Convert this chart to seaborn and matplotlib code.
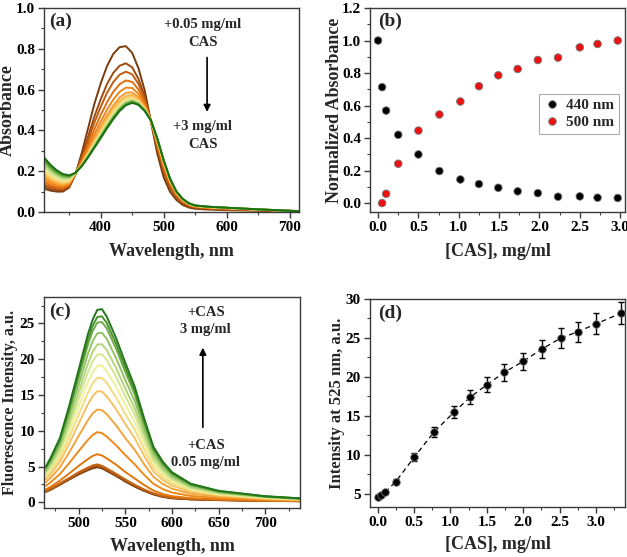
import matplotlib
matplotlib.use("Agg")
import matplotlib.pyplot as plt
import seaborn as sns
import pandas as pd
from matplotlib.ticker import MultipleLocator

# ---------------- data: panel (a) absorbance spectra ----------------
wl_a = [310, 320, 330, 340, 350, 360, 370, 380, 390, 400, 410, 420, 430, 440, 450,
        460, 470, 480, 490, 500, 510, 520, 530, 540, 550, 570, 600, 650, 715]
a00 = [.115,.105,.100,.100,.120,.185,.290,.410,.530,.630,.715,.775,.808,.813,.780,.705,.595,.440,.285,.170,.100,.060,.035,.022,.016,.012,.009,.006,.002]
a01 = [.126,.114,.107,.106,.124,.187,.271,.369,.468,.552,.627,.682,.717,.729,.709,.653,.566,.442,.307,.195,.119,.072,.044,.028,.021,.016,.012,.008,.003]
a02 = [.136,.123,.115,.112,.128,.188,.262,.349,.438,.515,.584,.637,.673,.688,.675,.628,.552,.443,.317,.207,.128,.078,.048,.031,.023,.018,.014,.009,.003]
a03 = [.147,.132,.122,.118,.133,.189,.252,.328,.405,.475,.538,.589,.626,.645,.638,.601,.537,.445,.329,.219,.138,.084,.052,.034,.025,.020,.016,.010,.003]
a04 = [.159,.142,.130,.125,.137,.190,.244,.311,.379,.442,.501,.551,.589,.610,.608,.579,.525,.446,.338,.230,.146,.089,.056,.037,.027,.022,.017,.011,.003]
a05 = [.170,.151,.138,.131,.142,.191,.239,.298,.360,.418,.474,.522,.561,.584,.586,.563,.516,.446,.344,.237,.151,.093,.059,.039,.029,.023,.018,.012,.004]
a06 = [.181,.160,.145,.137,.146,.191,.235,.291,.349,.405,.459,.506,.545,.569,.574,.554,.511,.447,.348,.241,.155,.095,.060,.040,.029,.024,.019,.012,.004]
a07 = [.192,.169,.153,.143,.150,.191,.233,.286,.342,.395,.448,.495,.534,.559,.566,.547,.507,.447,.351,.244,.157,.097,.061,.040,.030,.024,.020,.012,.004]
a08 = [.202,.177,.160,.149,.154,.191,.231,.282,.336,.389,.440,.487,.526,.552,.559,.543,.505,.447,.353,.247,.159,.098,.062,.041,.030,.025,.020,.012,.004]
a09 = [.213,.186,.167,.155,.158,.191,.230,.279,.331,.382,.433,.479,.518,.545,.553,.538,.502,.447,.354,.249,.160,.099,.063,.041,.031,.025,.020,.012,.004]
a10 = [.224,.195,.175,.161,.163,.192,.229,.277,.328,.378,.428,.474,.514,.540,.550,.536,.501,.448,.356,.250,.161,.099,.063,.042,.031,.025,.020,.013,.004]
a11 = [.236,.205,.183,.168,.167,.192,.228,.274,.325,.374,.424,.469,.509,.536,.546,.533,.499,.448,.357,.251,.162,.100,.064,.042,.031,.025,.020,.013,.004]
a12 = [.247,.214,.190,.174,.172,.192,.227,.272,.321,.370,.419,.465,.504,.532,.542,.530,.498,.448,.358,.252,.163,.101,.064,.042,.032,.026,.021,.013,.004]
a13 = [.257,.223,.198,.180,.176,.192,.226,.270,.318,.366,.415,.460,.500,.527,.539,.528,.496,.448,.359,.254,.164,.101,.065,.043,.032,.026,.021,.013,.004]
a14 = [.268,.232,.205,.186,.180,.192,.225,.268,.315,.362,.410,.455,.495,.523,.535,.525,.495,.448,.360,.255,.165,.102,.065,.043,.032,.026,.021,.013,.004]
abs_curves = [a00, a01, a02, a03, a04, a05, a06, a07, a08, a09, a10, a11, a12, a13, a14]
abs_colors = ['#7a3c0c', '#9c4a10', '#c05c10', '#e06e10', '#f08418', '#f59a2c', '#f8b448',
              '#fac864', '#f8de84', '#eaea98', '#cce28a', '#a8d070', '#7cb850', '#4c9630', '#1e7010']

# ---------------- data: panel (b) normalized absorbance ----------------
cas_b = [0, 0.05, 0.1, 0.25, 0.5, 0.76, 1.02, 1.25, 1.49, 1.73, 1.98, 2.23, 2.5, 2.72, 2.97]
norm_440 = [1.0, 0.713, 0.569, 0.42, 0.299, 0.197, 0.145, 0.117, 0.094, 0.072, 0.061, 0.039, 0.041, 0.033, 0.031]
cas_b500 = [0.05, 0.1, 0.25, 0.5, 0.76, 1.02, 1.25, 1.49, 1.73, 1.98, 2.23, 2.5, 2.72, 2.97]
norm_500 = [0.0, 0.057, 0.242, 0.446, 0.545, 0.625, 0.719, 0.786, 0.825, 0.88, 0.895, 0.958, 0.979, 1.0]

# ---------------- data: panel (c) fluorescence spectra ----------------
wl_c = [465, 470, 480, 490, 500, 510, 515, 520, 525, 530, 540, 550, 560, 570, 580, 590, 600, 620, 650, 700, 737]
c00 = [1.5, 1.8, 2.5, 3.2, 3.9, 4.5, 4.75, 4.9, 4.75, 4.4, 3.7, 2.9, 2.2, 1.6, 1.1, 0.75, 0.55, 0.4, 0.3, 0.2, 0.15]
c01 = [1.45, 1.75, 2.45, 3.2, 3.95, 4.55, 4.85, 5.0, 4.8, 4.45, 3.75, 2.95, 2.25, 1.65, 1.15, 0.8, 0.6, 0.42, 0.31, 0.2, 0.15]
c02 = [1.55, 1.85, 2.55, 3.3, 4.05, 4.65, 4.95, 5.1, 4.9, 4.55, 3.85, 3.05, 2.35, 1.72, 1.2, 0.85, 0.63, 0.45, 0.33, 0.21, 0.16]
c03 = [1.6, 1.9, 2.65, 3.4, 4.2, 4.85, 5.15, 5.3, 5.1, 4.75, 4.0, 3.2, 2.45, 1.8, 1.25, 0.88, 0.66, 0.47, 0.34, 0.22, 0.16]
c04 = [1.79, 2.16, 3.03, 4.03, 5.08, 6.04, 6.48, 6.72, 6.54, 6.15, 5.26, 4.24, 3.33, 2.43, 1.64, 1.15, 0.85, 0.58, 0.41, 0.25, 0.18]
c05 = [2.30, 2.78, 3.94, 5.49, 7.14, 8.72, 9.40, 9.80, 9.67, 9.20, 7.98, 6.59, 5.31, 3.86, 2.59, 1.85, 1.36, 0.89, 0.59, 0.34, 0.24]
c06 = [2.82, 3.41, 4.89, 6.98, 9.26, 11.47, 12.40, 12.97, 12.88, 12.33, 10.78, 8.99, 7.34, 5.34, 3.56, 2.57, 1.89, 1.21, 0.78, 0.44, 0.30]
c07 = [3.24, 3.93, 5.65, 8.19, 10.97, 13.70, 14.82, 15.53, 15.47, 14.85, 13.04, 10.93, 8.98, 6.54, 4.34, 3.15, 2.32, 1.46, 0.93, 0.51, 0.34]
c08 = [3.55, 4.31, 6.21, 9.07, 12.22, 15.33, 16.60, 17.40, 17.38, 16.71, 14.70, 12.36, 10.18, 7.41, 4.92, 3.57, 2.63, 1.65, 1.04, 0.57, 0.38]
c09 = [3.83, 4.65, 6.71, 9.86, 13.35, 16.79, 18.19, 19.09, 19.08, 18.38, 16.19, 13.64, 11.26, 8.20, 5.43, 3.95, 2.91, 1.82, 1.14, 0.62, 0.41]
c10 = [4.09, 4.96, 7.17, 10.61, 14.40, 18.16, 19.68, 20.66, 20.68, 19.93, 17.58, 14.84, 12.27, 8.93, 5.92, 4.31, 3.17, 1.98, 1.23, 0.67, 0.44]
c11 = [4.32, 5.25, 7.59, 11.26, 15.33, 19.38, 21.01, 22.06, 22.09, 21.31, 18.81, 15.90, 13.16, 9.59, 6.35, 4.63, 3.41, 2.12, 1.32, 0.71, 0.46]
c12 = [4.58, 5.56, 8.06, 12.01, 16.38, 20.75, 22.50, 23.63, 23.69, 22.87, 20.20, 17.09, 14.17, 10.32, 6.83, 4.98, 3.67, 2.28, 1.41, 0.76, 0.49]
c13 = [4.82, 5.86, 8.50, 12.71, 17.38, 22.04, 23.91, 25.12, 25.19, 24.34, 21.51, 18.22, 15.12, 11.01, 7.28, 5.32, 3.92, 2.43, 1.50, 0.80, 0.52]
c14 = [4.95, 6.02, 8.73, 13.08, 17.90, 22.72, 24.65, 25.90, 25.99, 25.11, 22.21, 18.82, 15.63, 11.38, 7.53, 5.50, 4.05, 2.51, 1.55, 0.82, 0.53]
c15 = [5.0, 6.2, 9.0, 13.5, 18.5, 23.5, 25.5, 26.9, 27.0, 26.0, 23.0, 19.5, 16.2, 11.8, 7.8, 5.7, 4.2, 2.6, 1.6, 0.85, 0.55]
fl_curves = [c00, c01, c02, c03, c04, c05, c06, c07, c08, c09, c10, c11, c12, c13, c14, c15]
fl_colors = ['#6b3208', '#8a4210', '#a85312', '#c46414', '#e0780e', '#ee8a1a', '#f3a43a', '#f7c160',
             '#f5dc7e', '#eef09a', '#d4e68e', '#b5d57a', '#93c262', '#6fab48', '#4a9230', '#23761a']

# ---------------- data: panel (d) intensity at 525 nm ----------------
cas_d = [0, 0.05, 0.1, 0.25, 0.5, 0.77, 1.05, 1.27, 1.5, 1.74, 2.0, 2.26, 2.52, 2.75, 3.0, 3.35]
int_d = [4.66, 4.87, 5.2, 6.6, 9.7, 12.9, 15.5, 17.4, 19.0, 20.6, 22.0, 23.6, 25.0, 25.8, 26.8, 28.2]
err_d = [0.2, 0.2, 0.25, 0.3, 0.5, 0.65, 0.8, 0.9, 0.95, 1.05, 1.1, 1.2, 1.25, 1.3, 1.35, 1.4]

# ---------------- style ----------------
sns.set_style("ticks")
plt.rcParams['font.family'] = ['Liberation Serif', 'DejaVu Serif']
plt.rcParams['font.weight'] = 'bold'
plt.rcParams['axes.labelweight'] = 'bold'

TICK_FS = 11
LAB_FS = 13

fig = plt.figure(figsize=(6.27, 5.57), dpi=100)
axA = fig.add_axes([0.0702, 0.6194, 0.4067, 0.3662])
axB = fig.add_axes([0.5901, 0.6194, 0.4067, 0.3662])
axC = fig.add_axes([0.0702, 0.0880, 0.4083, 0.3788])
axD = fig.add_axes([0.5901, 0.0903, 0.4067, 0.3729])


def style_axis(ax):
    for sp in ax.spines.values():
        sp.set_visible(True)
        sp.set_color('#3a3a3a')
        sp.set_linewidth(1.0)
    ax.tick_params(which='major', direction='out', length=4, width=1, colors='#3a3a3a',
                   labelsize=TICK_FS, labelcolor='black', top=False, right=False, pad=2.5)
    ax.tick_params(which='minor', direction='out', length=2.2, width=0.8, colors='#3a3a3a',
                   top=False, right=False)
    for lab in ax.get_xticklabels() + ax.get_yticklabels():
        lab.set_fontweight('bold')


# ---- (a) ----
dfa = pd.DataFrame({'wl': wl_a * len(abs_curves),
                    'A': [v for c in abs_curves for v in c],
                    'k': [i for i in range(len(abs_curves)) for _ in wl_a]})
sns.lineplot(data=dfa, x='wl', y='A', hue='k', palette=abs_colors, lw=1.4,
             legend=False, ax=axA, sort=False)
axA.set_xlim(310, 715)
axA.set_ylim(0, 1.0)
axA.xaxis.set_major_locator(MultipleLocator(100))
axA.xaxis.set_minor_locator(MultipleLocator(50))
axA.yaxis.set_major_locator(MultipleLocator(0.2))
axA.yaxis.set_minor_locator(MultipleLocator(0.1))
axA.set_xlabel('Wavelength, nm', fontsize=LAB_FS, fontweight='bold')
axA.set_ylabel('Absorbance', fontsize=LAB_FS, fontweight='bold')
axA.yaxis.set_label_coords(-0.11, 0.5)
axA.xaxis.set_label_coords(0.5, -0.152)
axA.text(0.02, 0.975, '(a)', transform=axA.transAxes, fontsize=14, fontweight='bold', va='top')
axA.text(562, 0.875, '+0.05 mg/ml\nCAS', ha='center', va='center', fontsize=10.5,
         fontweight='bold', linespacing=1.45)
axA.text(562, 0.374, '+3 mg/ml\nCAS', ha='center', va='center', fontsize=10.5,
         fontweight='bold', linespacing=1.45)
axA.annotate('', xy=(569, 0.477), xytext=(569, 0.771),
             arrowprops=dict(arrowstyle='-|>', color='black', lw=1.2, mutation_scale=10))
style_axis(axA)

# ---- (b) ----
dfb = pd.DataFrame({'cas': cas_b + cas_b500, 'val': norm_440 + norm_500,
                    'series': ['440 nm'] * len(cas_b) + ['500 nm'] * len(cas_b500)})
sns.scatterplot(data=dfb, x='cas', y='val', hue='series',
                palette={'440 nm': 'black', '500 nm': '#ee1111'}, s=30,
                edgecolor='#777777', linewidth=0.6, ax=axB)
axB.set_xlim(-0.1, 3.06)
axB.set_ylim(-0.055, 1.2)
axB.xaxis.set_major_locator(MultipleLocator(0.5))
axB.xaxis.set_minor_locator(MultipleLocator(0.25))
axB.yaxis.set_major_locator(MultipleLocator(0.2))
axB.yaxis.set_minor_locator(MultipleLocator(0.1))
axB.set_xlabel('[CAS], mg/ml', fontsize=LAB_FS, fontweight='bold')
axB.set_ylabel('Normalized Absorbance', fontsize=LAB_FS, fontweight='bold')
axB.yaxis.set_label_coords(-0.106, 0.5)
axB.xaxis.set_label_coords(0.5, -0.152)
axB.text(0.03, 0.975, '(b)', transform=axB.transAxes, fontsize=14, fontweight='bold', va='top')
leg = axB.legend(loc='upper right', bbox_to_anchor=(0.975, 0.58), frameon=True,
                 fancybox=False, edgecolor='#999999', fontsize=11, handletextpad=0.3,
                 handlelength=1.2, borderpad=0.3, labelspacing=0.25, borderaxespad=0.0,
                 title=None)
leg.get_frame().set_linewidth(0.8)
for t in leg.get_texts():
    t.set_fontweight('bold')
style_axis(axB)

# ---- (c) ----
dfc = pd.DataFrame({'wl': wl_c * len(fl_curves),
                    'F': [v for c in fl_curves for v in c],
                    'k': [i for i in range(len(fl_curves)) for _ in wl_c]})
sns.lineplot(data=dfc, x='wl', y='F', hue='k', palette=fl_colors, lw=1.4,
             legend=False, ax=axC, sort=False)
axC.set_xlim(463, 737)
axC.set_ylim(-0.8, 28.7)
axC.xaxis.set_major_locator(MultipleLocator(50))
axC.xaxis.set_minor_locator(MultipleLocator(25))
axC.yaxis.set_major_locator(MultipleLocator(5))
axC.yaxis.set_minor_locator(MultipleLocator(2.5))
axC.set_xlabel('Wavelength, nm', fontsize=LAB_FS, fontweight='bold')
axC.set_ylabel('Fluorescence Intensity, a.u.', fontsize=11.5, fontweight='bold')
axC.yaxis.set_label_coords(-0.10, 0.5)
axC.xaxis.set_label_coords(0.5, -0.142)
axC.text(0.02, 0.975, '(c)', transform=axC.transAxes, fontsize=14, fontweight='bold', va='top')
axC.text(636, 25.4, '+CAS\n3 mg/ml', ha='center', va='center', fontsize=10.5,
         fontweight='bold', linespacing=1.4)
axC.text(636, 6.7, '+CAS\n0.05 mg/ml', ha='center', va='center', fontsize=10.5,
         fontweight='bold', linespacing=1.4)
axC.annotate('', xy=(633, 22.0), xytext=(633, 10.1),
             arrowprops=dict(arrowstyle='-|>', color='black', lw=1.2, mutation_scale=10))
style_axis(axC)

# ---- (d) ----
dfd = pd.DataFrame({'cas': cas_d, 'I': int_d})
sns.lineplot(data=dfd, x='cas', y='I', color='black', lw=0.9, linestyle=(0, (4, 3)),
             ax=axD)
axD.errorbar(cas_d, int_d, yerr=err_d, fmt='none', ecolor='black', elinewidth=1.0,
             capsize=2.5, capthick=1.0)
sns.scatterplot(data=dfd, x='cas', y='I', color='black', s=30, edgecolor='#777777',
                linewidth=0.6, ax=axD, zorder=5)
axD.set_xlim(-0.106, 3.40)
axD.set_ylim(3.37, 30)
axD.xaxis.set_major_locator(MultipleLocator(0.5))
axD.xaxis.set_minor_locator(MultipleLocator(0.25))
axD.yaxis.set_major_locator(MultipleLocator(5))
axD.yaxis.set_minor_locator(MultipleLocator(2.5))
axD.set_xlabel('[CAS], mg/ml', fontsize=LAB_FS, fontweight='bold')
axD.set_ylabel('Intensity at 525 nm, a.u.', fontsize=12, fontweight='bold')
axD.yaxis.set_label_coords(-0.098, 0.5)
axD.xaxis.set_label_coords(0.5, -0.142)
axD.text(0.03, 0.975, '(d)', transform=axD.transAxes, fontsize=14, fontweight='bold', va='top')
style_axis(axD)

fig.savefig('out.png', dpi=100)
